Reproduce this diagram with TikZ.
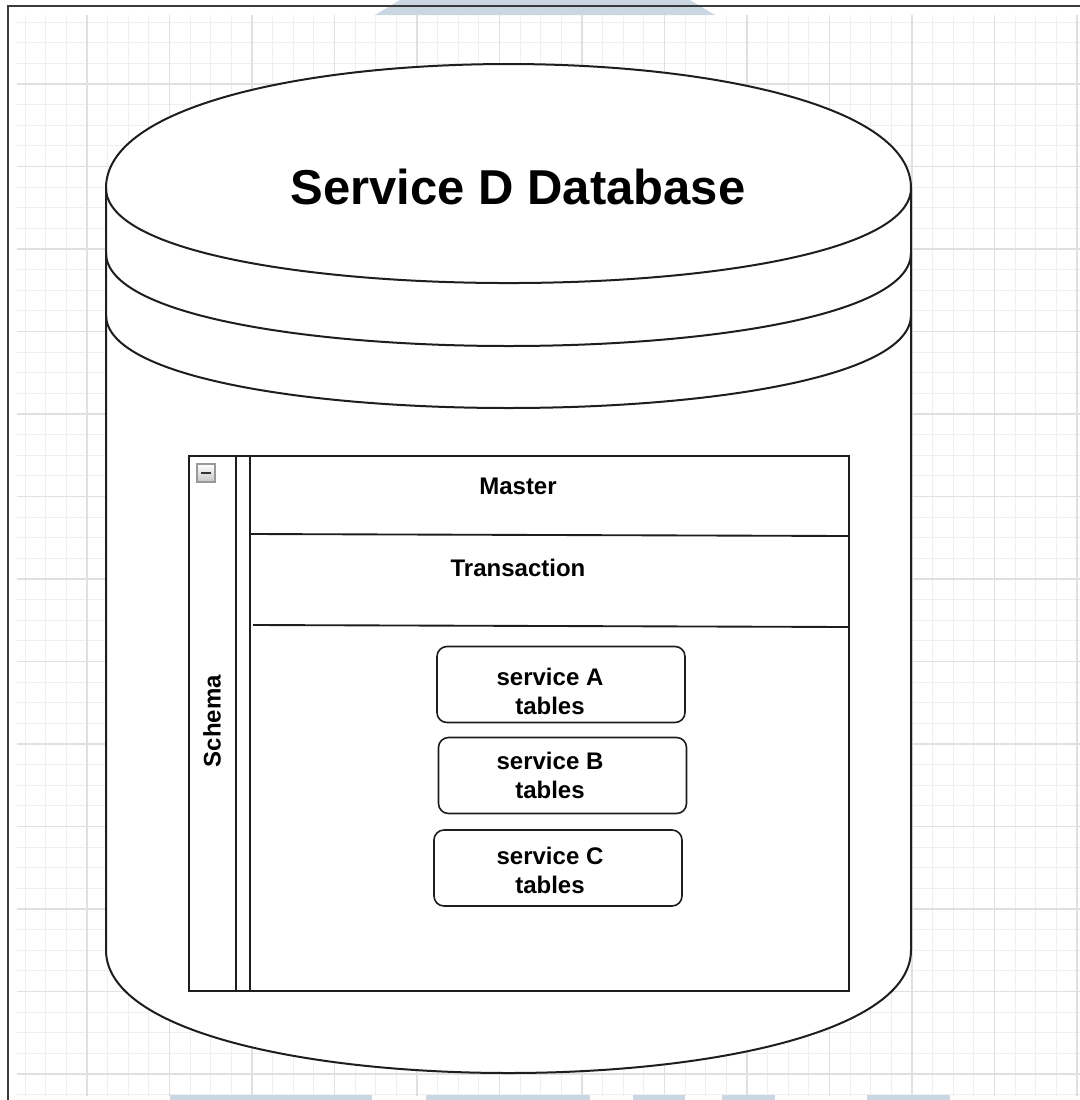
\documentclass[tikz,border=0pt]{standalone}
\usepackage{fontspec}
\setmainfont{Liberation Sans}
\definecolor{gridminor}{HTML}{EFEFEF}
\definecolor{gridmajor}{HTML}{E0E0E0}
\definecolor{inkline}{HTML}{1E1E1E}
\definecolor{framegray}{HTML}{3A3A3A}
\definecolor{markblue}{HTML}{CAD7E3}
\tikzset{
  cylline/.style={draw=inkline, line width=1.5pt},
  laneline/.style={draw=inkline, line width=1.4pt},
  tablebox/.style={draw=inkline, line width=1.2pt, rounded corners=7.5pt, fill=white,
    minimum width=186pt, minimum height=57pt, inner sep=0pt},
  rowlabel/.style={inner sep=0pt, align=center, font=\fontsize{18}{21.75}\selectfont\bfseries},
}
\begin{document}
\begin{tikzpicture}[x=0.75pt,y=-0.75pt]
\useasboundingbox (0,0) rectangle (1080,1100);
\fill[white] (0,0) rectangle (1080,1100);

% background grid
\begin{scope}
  \clip (17,15) rectangle (1080,1095);
  \foreach \i in {0,...,53} {
    \pgfmathsetmacro\gx{4.5+20.625*\i}
    \draw[gridminor, line width=0.75pt] (\gx,0) -- (\gx,1100);
    \pgfmathsetmacro\gy{1.5+20.625*\i}
    \draw[gridminor, line width=0.75pt] (0,\gy) -- (1080,\gy);
  }
  \foreach \i in {0,...,13} {
    \pgfmathsetmacro\gx{4.5+82.5*\i}
    \draw[gridmajor, line width=0.8pt] (\gx,0) -- (\gx,1100);
    \pgfmathsetmacro\gy{1.5+82.5*\i}
    \draw[gridmajor, line width=0.8pt] (0,\gy) -- (1080,\gy);
  }
\end{scope}

% faint marks along the top and bottom edges
\fill[markblue] (375,15) -- (715,15) -- (690,0) -- (400,0) -- cycle;
\foreach \a/\b in {170/372, 426/590, 633/685, 722/775, 867/950}
  \fill[markblue] (\a,1095) rectangle (\b,1100);

% page frame
\draw[framegray, line width=1.5pt] (8,1100) -- (8,6) -- (1080,6);

% database cylinder
\path[cylline, fill=white] (106,188) .. controls (106,22.7) and (911,22.7) .. (911,188)
  -- (911,950) .. controls (911,1114) and (106,1114) .. (106,950) -- cycle;
\draw[cylline] (106,188) .. controls (106,314.7) and (911,314.7) .. (911,188);
\draw[cylline] (106,253) .. controls (106,377) and (911,377) .. (911,253);
\draw[cylline] (106,315) .. controls (106,439) and (911,439) .. (911,315);
\node (title) at (518,187) [inner sep=0pt, font=\fontsize{36.75}{44}\selectfont\bfseries] {Service D Database};

% schema container
\coordinate (schemaNW) at (189,456);
\coordinate (schemaSE) at (849,991);
\draw[laneline, fill=white] (schemaNW) rectangle (schemaSE);
\draw[laneline] (236,456) -- (236,991);
\draw[laneline] (250,456) -- (250,991);
\node (schema) at (212,721) [rotate=90, rowlabel] {Schema};

% collapse button
\shade[top color=white, bottom color=gray!45, draw=gray!80, line width=0.8pt]
  (197,464) rectangle (215,482);
\draw[black!80, line width=1.6pt] (201,473) -- (211,473);

% rows of the schema
\draw[laneline] (250,534) -- (849,536);
\draw[laneline] (253,625) -- (849,627);
\node (master) at (518,486) [rowlabel] {Master};
\node (transaction) at (518,568) [rowlabel] {Transaction};

% service tables
\node (svcA) at (561,684.5) [tablebox] {};
\node (svcB) at (562.5,775.5) [tablebox] {};
\node (svcC) at (558,868) [tablebox] {};
\node (svcAtext) at (550,691) [rowlabel] {service A\\tables};
\node (svcBtext) at (550,775.5) [rowlabel] {service B\\tables};
\node (svcCtext) at (550,870.5) [rowlabel] {service C\\tables};
\end{tikzpicture}
\end{document}
